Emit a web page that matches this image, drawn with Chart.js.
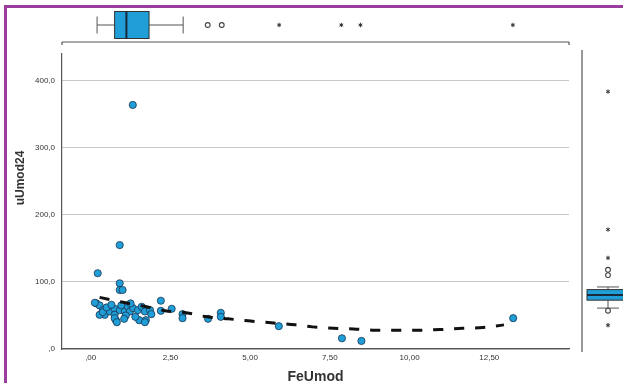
<!DOCTYPE html>
<html>
<head>
<meta charset="utf-8">
<script src="https://cdn.jsdelivr.net/npm/chart.js@4.4.0/dist/chart.umd.min.js"></script>
<style>
  html, body { margin: 0; padding: 0; background: #fff; overflow: hidden; }
  #wrap { position: relative; width: 623px; height: 383px; }
  #marco { position: absolute; left: 4px; top: 5px; width: 640px; height: 400px;
           border-left: 3px solid #9b3d9d; border-top: 3px solid #9b3d9d; z-index: 2; }
  canvas { position: absolute; left: 0; top: 0; }
</style>
</head>
<body>
<div id="wrap">
  <div id="marco"></div>
  <canvas id="chartUmod" width="623" height="383"></canvas>
</div>
<script>
// Datos: FeUmod (x) vs uUmod24 (y)
const feUmod = [1.32, 0.91, 0.22, 0.91, 0.91, 1.00, 0.18, 0.28, 0.38, 0.44,
  0.60, 0.75, 0.75, 0.79, 0.91, 0.96, 1.07, 1.17, 1.23, 1.33,
  1.48, 1.52, 1.60, 1.70, 1.73, 1.86, 2.20, 2.20, 2.54, 0.13,
  0.28, 0.38, 0.75, 0.82, 1.70, 2.88, 2.88, 3.68, 4.08, 4.08,
  5.90, 7.88, 8.49, 13.25, 0.50, 1.10, 1.40, 1.25, 0.65, 1.05, 1.90];
const uUmod24 = [364, 155, 113, 98, 88, 88, 68, 65, 58, 51,
  56, 60, 51, 43, 58, 65, 56, 63, 56, 61,
  58, 43, 63, 56, 43, 58, 72, 57, 60, 69,
  51, 55, 46, 40, 40, 52, 46, 45, 54, 48,
  34, 16, 12, 46, 62, 50, 48, 68, 66, 45, 52];

// Linea de ajuste (discontinua)
const ajusteX = [0.28, 0.97, 1.64, 2.33, 2.99, 3.65, 4.31, 4.94, 5.66, 6.42,
  6.95, 7.61, 8.24, 8.93, 9.62, 10.28, 10.97, 11.67, 12.30, 12.96];
const ajusteY = [77, 70, 64, 57, 54, 48, 45, 42, 39, 36,
  33, 31, 30, 28, 28, 28, 29, 31, 32, 36];

// Diagramas de caja: [bigote inf, Q1, mediana, Q3, bigote sup]
const cajaFe = [0.2, 0.75, 1.12, 1.83, 2.9];
const atipicosFe = [3.67, 4.11];
const extremosFe = [5.91, 7.86, 8.46, 13.24];
const cajaU = [36, 48, 56, 64, 68];
const atipicosU = [94, 86, 32];
const extremosU = [364, 155, 112, 10];

const ticksX = [0, 2.5, 5, 7.5, 10, 12.5];
const ticksY = [0, 100, 200, 300, 400];
const tituloX = "FeUmod";
const tituloY = "uUmod24";

const azul = "#1f9ed8";
const gris = "#555";

function formato(v, dec) {
  let s = v.toFixed(dec).replace(".", ",");
  if (s.startsWith("0,")) s = s.slice(1);
  return s;
}

function linea(ctx, x1, y1, x2, y2) {
  ctx.beginPath();
  ctx.moveTo(x1, y1);
  ctx.lineTo(x2, y2);
  ctx.stroke();
}

function estrella(ctx, x, y) {
  ctx.save();
  ctx.strokeStyle = "#333";
  ctx.lineWidth = 1;
  for (let i = 0; i < 3; i++) {
    const a = Math.PI / 2 + i * Math.PI / 3;
    linea(ctx, x - 2.2 * Math.cos(a), y - 2.2 * Math.sin(a), x + 2.2 * Math.cos(a), y + 2.2 * Math.sin(a));
  }
  ctx.restore();
}

function circulo(ctx, x, y) {
  ctx.save();
  ctx.strokeStyle = "#444";
  ctx.lineWidth = 1.1;
  ctx.beginPath();
  ctx.arc(x, y, 2.4, 0, Math.PI * 2);
  ctx.stroke();
  ctx.restore();
}

// Plugin: cajas marginales y titulo del eje Y
const cajasMarginales = {
  id: "cajasMarginales",
  afterDraw(chart) {
    const ctx = chart.ctx;
    const xs = chart.scales.x;
    const ys = chart.scales.y2;
    const area = chart.chartArea;
    ctx.save();

    // caja superior (FeUmod)
    ctx.strokeStyle = gris;
    ctx.lineWidth = 1.2;
    linea(ctx, area.left, 42, area.right, 42);
    linea(ctx, area.left, 42, area.left, 45);
    linea(ctx, area.right, 42, area.right, 45);
    const cy = 25;
    const px = cajaFe.map(v => xs.getPixelForValue(v));
    ctx.strokeStyle = gris;
    ctx.lineWidth = 1;
    linea(ctx, px[0], cy, px[1], cy);
    linea(ctx, px[3], cy, px[4], cy);
    linea(ctx, px[0], cy - 8.5, px[0], cy + 8.5);
    linea(ctx, px[4], cy - 8.5, px[4], cy + 8.5);
    ctx.fillStyle = azul;
    ctx.fillRect(px[1], cy - 13.5, px[3] - px[1], 27);
    ctx.strokeStyle = "#333";
    ctx.strokeRect(px[1], cy - 13.5, px[3] - px[1], 27);
    ctx.lineWidth = 2;
    ctx.strokeStyle = "#1a2a3a";
    linea(ctx, px[2], cy - 13.5, px[2], cy + 13.5);
    atipicosFe.forEach(v => circulo(ctx, xs.getPixelForValue(v), cy));
    extremosFe.forEach(v => estrella(ctx, xs.getPixelForValue(v), cy));

    // caja derecha (uUmod24)
    ctx.strokeStyle = gris;
    ctx.lineWidth = 1.2;
    linea(ctx, 582, 50, 582, 352);
    const cx = 608;
    const py = cajaU.map(v => ys.getPixelForValue(v));
    ctx.lineWidth = 1;
    linea(ctx, cx, py[0], cx, py[1]);
    linea(ctx, cx, py[3], cx, py[4]);
    linea(ctx, cx - 11, py[0], cx + 11, py[0]);
    linea(ctx, cx - 11, py[4], cx + 11, py[4]);
    ctx.fillStyle = azul;
    ctx.fillRect(cx - 21, py[3], 42, py[1] - py[3]);
    ctx.strokeStyle = "#333";
    ctx.strokeRect(cx - 21, py[3], 42, py[1] - py[3]);
    ctx.lineWidth = 2;
    ctx.strokeStyle = "#1a2a3a";
    linea(ctx, cx - 21, py[2], cx + 21, py[2]);
    atipicosU.forEach(v => circulo(ctx, cx, ys.getPixelForValue(v)));
    extremosU.forEach(v => estrella(ctx, cx, ys.getPixelForValue(v)));

    // titulo eje Y
    ctx.translate(21, 178);
    ctx.rotate(-Math.PI / 2);
    ctx.fillStyle = "#333";
    ctx.font = "bold 12px 'Liberation Sans', Arial, sans-serif";
    ctx.textAlign = "center";
    ctx.textBaseline = "middle";
    ctx.fillText(tituloY, 0, 0);
    ctx.restore();
  }
};

const ctx = document.getElementById("chartUmod");
new Chart(ctx, {
  type: "scatter",
  data: {
    datasets: [
      {
        label: "Ajuste",
        type: "line",
        data: ajusteX.map((x, i) => ({ x: x, y: ajusteY[i] })),
        borderColor: "#111",
        borderWidth: 3,
        borderDash: [10, 11],
        pointRadius: 0,
        tension: 0.4,
        fill: false,
        order: 0,
      },
      {
        label: "uUmod24",
        data: feUmod.map((x, i) => ({ x: x, y: uUmod24[i] })),
        backgroundColor: azul,
        borderColor: "#1c3550",
        borderWidth: 0.8,
        pointRadius: 3.6,
        order: 1,
      },
    ],
  },
  options: {
    responsive: false,
    animation: false,
    layout: { padding: { left: 8, top: 54, right: 54, bottom: 0 } },
    plugins: { legend: { display: false }, tooltip: { enabled: false } },
    scales: {
      x: {
        type: "linear",
        min: -0.9,
        max: 15.0,
        afterBuildTicks: (s) => { s.ticks = ticksX.map(v => ({ value: v })); },
        afterFit: (s) => { s.height = 34; },
        grid: { display: false, drawTicks: false },
        border: { display: true, color: gris, width: 1.2 },
        ticks: {
          padding: 4,
          color: "#333",
          font: { family: "'Liberation Sans', Arial, sans-serif", size: 8 },
          callback: (v) => formato(v, 2),
        },
        title: {
          display: true,
          text: tituloX,
          color: "#333",
          font: { family: "'Liberation Sans', Arial, sans-serif", size: 14, weight: "bold" },
          padding: { top: 0, bottom: -3 },
        },
      },
      y: {
        type: "linear",
        min: 0,
        max: 440,
        afterBuildTicks: (s) => { s.ticks = ticksY.map(v => ({ value: v })); },
        afterFit: (s) => { s.width = 54; },
        grid: { color: "#c8c8c8", lineWidth: 1, drawTicks: false },
        border: { display: true, color: gris, width: 1.2 },
        ticks: {
          padding: 7,
          color: "#333",
          font: { family: "'Liberation Sans', Arial, sans-serif", size: 8 },
          callback: (v) => formato(v, 1),
        },
      },
      y2: {
        type: "linear",
        position: "right",
        display: false,
        min: -26,
        max: 421,
      },
    },
  },
  plugins: [cajasMarginales],
});
</script>
</body>
</html>
